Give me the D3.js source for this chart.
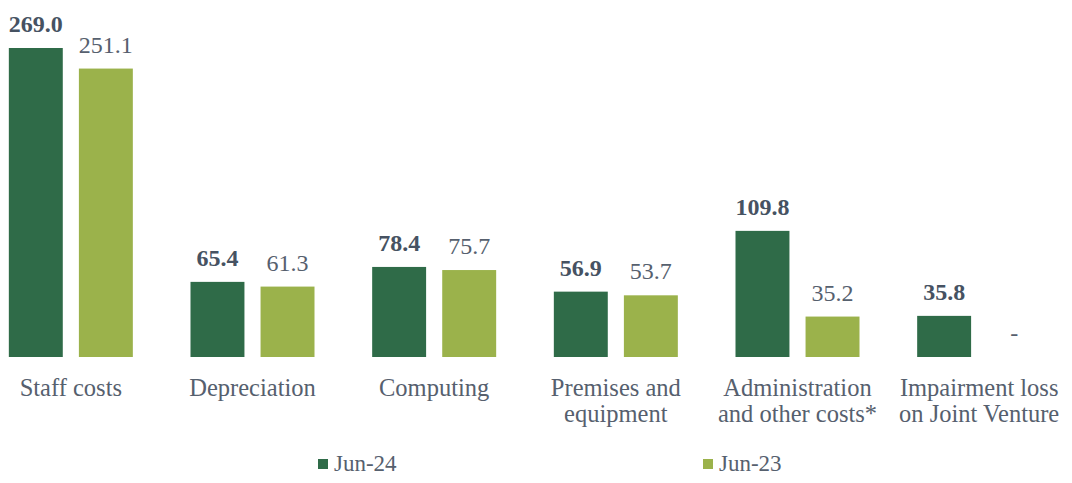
<!DOCTYPE html>
<html><head><meta charset="utf-8">
<script src="https://cdn.jsdelivr.net/npm/d3@7"></script>
<style>body{margin:0;background:#fff}svg{display:block}text{font-family:"Liberation Serif","Times New Roman","DejaVu Serif",serif}</style>
</head><body>
<svg id="c" width="1072" height="483"></svg>
<script>
const categories = [["Staff costs"],["Depreciation"],["Computing"],["Premises and","equipment"],["Administration","and other costs*"],["Impairment loss","on Joint Venture"]];
const seriesNames = ["Jun-24","Jun-23"];
const jun24 = [269.0, 65.4, 78.4, 56.9, 109.8, 35.8];
const jun23 = [251.1, 61.3, 75.7, 53.7, 35.2, null];
const colors = ["#2f6b48","#9bb24b"];

const svg = d3.select("#c");
const textCol = "#56606e";
const x = d3.scaleBand().domain(d3.range(categories.length)).range([-20, 1070]).paddingInner(0).paddingOuter(0);
const x1 = d3.scaleBand().domain([0,1]).range([x.bandwidth()/2-62, x.bandwidth()/2+62]).paddingInner(0.23).paddingOuter(0);
const y = d3.scaleLinear().domain([0, 269]).range([357, 48]);

const series = [jun24, jun23];
series.forEach((vals, s) => {
  const g = svg.append("g");
  vals.forEach((v, i) => {
    const bx = x(i) + x1(s);
    if (v != null) {
      g.append("rect").attr("x", bx).attr("y", y(v)).attr("width", x1.bandwidth()).attr("height", y(0) - y(v)).attr("fill", colors[s]);
    }
    g.append("text").attr("x", bx + x1.bandwidth()/2).attr("y", y(v == null ? 0 : v) - 16)
      .attr("text-anchor", "middle").attr("font-size", 24)
      .attr("font-weight", s === 0 ? "bold" : "normal").attr("fill", s === 0 ? "#465262" : textCol)
      .text(v == null ? "-" : v.toFixed(1));
  });
});

categories.forEach((lines, i) => {
  const t = svg.append("text").attr("x", x(i) + x.bandwidth()/2).attr("y", 396)
    .attr("text-anchor", "middle").attr("font-size", 24.5).attr("fill", textCol);
  lines.forEach((l, k) => t.append("tspan").attr("x", x(i) + x.bandwidth()/2).attr("dy", k ? 26 : 0).text(l));
});

const legX = [318, 703];
seriesNames.forEach((n, s) => {
  svg.append("rect").attr("x", legX[s]).attr("y", 459).attr("width", 10).attr("height", 10).attr("fill", colors[s]);
  svg.append("text").attr("x", legX[s] + 16).attr("y", 471).attr("font-size", 23).attr("fill", textCol).text(n);
});
</script>
</body></html>
